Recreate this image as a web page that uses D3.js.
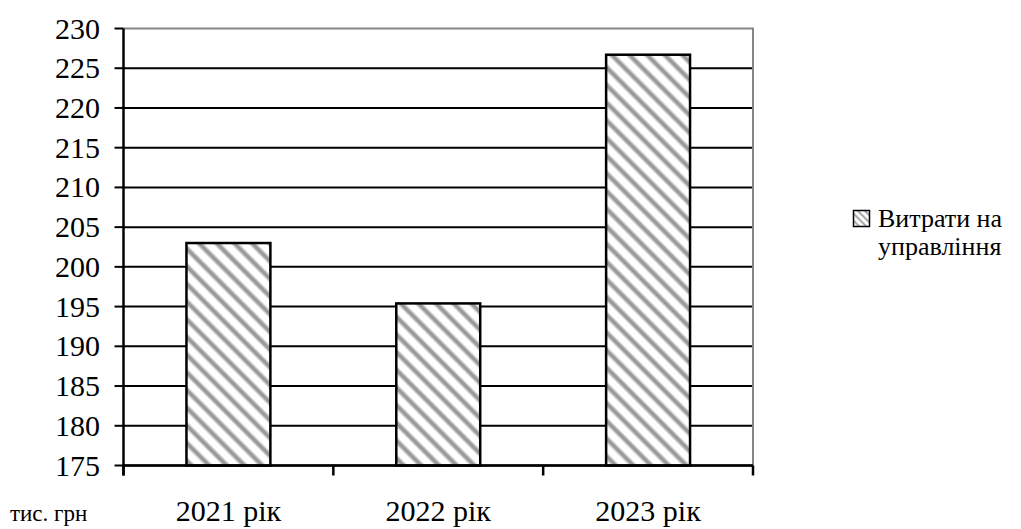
<!DOCTYPE html>
<html>
<head>
<meta charset="utf-8">
<script src="https://cdn.jsdelivr.net/npm/d3@7"></script>
<style>
  html, body { margin: 0; padding: 0; background: #fff; }
  svg { display: block; }
</style>
</head>
<body>
<svg id="chart" width="1021" height="529"></svg>
<script>
// Management expenses by year, thousand UAH
const categories = ["2021 рік", "2022 рік", "2023 рік"];
const values = [203.0, 195.4, 226.7];
const yTicks = [175, 180, 185, 190, 195, 200, 205, 210, 215, 220, 225, 230];
const legendLines = ["Витрати на", "управління"];
const unitLabel = "тис. грн";

const FONT = "Liberation Serif";
const svg = d3.select("#chart");
const plot = { left: 123.5, right: 753, top: 28.5, bottom: 465.5 };

const x = d3.scaleBand()
  .domain(categories)
  .range([plot.left, plot.right])
  .paddingInner(0.6)
  .paddingOuter(0.3);

const y = d3.scaleLinear()
  .domain([yTicks[0], yTicks[yTicks.length - 1]])
  .range([plot.bottom, plot.top]);

// diagonal hatch fill
const defs = svg.append("defs");
const grad = defs.append("linearGradient").attr("id", "stripe").attr("x1", 0).attr("x2", 1).attr("y1", 0).attr("y2", 0);
[[0, "#fff"], [0.22, "#fff"], [0.42, "#9a9a9a"], [0.58, "#9a9a9a"], [0.78, "#fff"], [1, "#fff"]]
  .forEach(([o, c]) => grad.append("stop").attr("offset", o).attr("stop-color", c));
const pat = defs.append("pattern")
  .attr("id", "hatch")
  .attr("patternUnits", "userSpaceOnUse")
  .attr("width", 12.5).attr("height", 12.5)
  .attr("patternTransform", "rotate(-45)");
pat.append("rect").attr("width", 12.5).attr("height", 12.5).attr("fill", "url(#stripe)");

const patSmall = defs.append("pattern")
  .attr("id", "hatchSmall")
  .attr("patternUnits", "userSpaceOnUse")
  .attr("width", 5).attr("height", 5)
  .attr("patternTransform", "rotate(-45)");
patSmall.append("rect").attr("width", 5).attr("height", 5).attr("fill", "url(#stripe)");

function addText(parent, str, size, tx, ty, anchor) {
  return parent.append("text")
    .attr("font-family", FONT)
    .attr("font-size", size)
    .attr("fill", "#000")
    .attr("text-anchor", anchor)
    .attr("x", tx).attr("y", ty)
    .text(str);
}

// horizontal gridlines (top one belongs to the grey plot frame)
svg.append("g").selectAll("line")
  .data(yTicks.slice(0, -1))
  .join("line")
  .attr("x1", plot.left).attr("x2", plot.right)
  .attr("y1", d => y(d)).attr("y2", d => y(d))
  .attr("stroke", "#000").attr("stroke-width", 2);

// plot frame: grey top and right edges
svg.append("path")
  .attr("d", `M${plot.left},${y(230)}H${plot.right}V${plot.bottom}`)
  .attr("fill", "none").attr("stroke", "#858585").attr("stroke-width", 2);

// bars
const bars = svg.append("g");
bars.selectAll("rect.fill")
  .data(values)
  .join("rect")
  .attr("class", "fill")
  .attr("x", (d, i) => x(categories[i]))
  .attr("width", x.bandwidth())
  .attr("y", d => y(d))
  .attr("height", d => plot.bottom - y(d))
  .attr("fill", "url(#hatch)");
bars.selectAll("rect.edge")
  .data(values)
  .join("rect")
  .attr("class", "edge")
  .attr("x", (d, i) => x(categories[i]))
  .attr("width", x.bandwidth())
  .attr("y", d => y(d))
  .attr("height", d => plot.bottom - y(d))
  .attr("fill", "none").attr("stroke", "#000").attr("stroke-width", 2.5);

// y axis: ticks, line, labels
svg.append("g").selectAll("line")
  .data(yTicks)
  .join("line")
  .attr("x1", plot.left - 9).attr("x2", plot.left)
  .attr("y1", d => y(d)).attr("y2", d => y(d))
  .attr("stroke", "#000").attr("stroke-width", 2);
svg.append("line")
  .attr("x1", plot.left).attr("x2", plot.left)
  .attr("y1", y(230)).attr("y2", plot.bottom + 10)
  .attr("stroke", "#000").attr("stroke-width", 2.5);

const yLabels = svg.append("g");
yTicks.forEach(d => addText(yLabels, String(d), 30, 100, y(d) + 10, "end"));

// x axis
svg.append("line")
  .attr("x1", plot.left).attr("x2", plot.right)
  .attr("y1", plot.bottom).attr("y2", plot.bottom)
  .attr("stroke", "#000").attr("stroke-width", 2.5);
const boundaries = categories.map(c => x(c) - x.step() * x.paddingOuter()).concat([plot.right]);
svg.append("g").selectAll("line")
  .data(boundaries)
  .join("line")
  .attr("x1", d => d).attr("x2", d => d)
  .attr("y1", plot.bottom).attr("y2", plot.bottom + 10)
  .attr("stroke", "#000").attr("stroke-width", 2.5);

const xLabels = svg.append("g");
categories.forEach(c => addText(xLabels, c, 30, x(c) + x.bandwidth() / 2, 521, "middle"));

addText(svg, unitLabel, 23, 10, 521, "start");

// legend
svg.append("rect")
  .attr("x", 853.5).attr("y", 210.5).attr("width", 16).attr("height", 16)
  .attr("fill", "url(#hatchSmall)")
  .attr("stroke", "#000").attr("stroke-width", 1.5);
legendLines.forEach((t, i) => addText(svg, t, 26, 878, 227 + i * 28, "start"));
</script>
</body>
</html>
